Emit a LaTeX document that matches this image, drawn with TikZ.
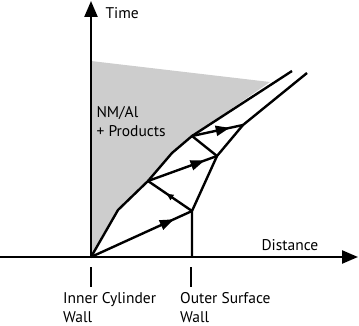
\documentclass[tikz,border=0pt]{standalone}
\usepackage{fontspec}
\setmainfont{PT Sans}
\usetikzlibrary{arrows.meta, decorations.markings}
\definecolor{productgray}{HTML}{CDCDCD}

\begin{document}
\begin{tikzpicture}[x=1pt, y=-1pt, >={Triangle[length=16pt, width=13pt]},
  line width=2.4pt, line join=round, font=\fontsize{15.5}{19}\selectfont,
  midarrow/.style={postaction={decorate}, decoration={markings,
      mark=at position #1 with {\arrow{Triangle[length=14pt, width=10pt]}}}},
  smallarrow/.style={postaction={decorate}, decoration={markings,
      mark=at position #1 with {\arrow{Triangle[length=7pt, width=6pt]}}}}]
  \useasboundingbox (0,0) rectangle (359,326);

  % Points of the wave paths
  \coordinate (o) at (91,257);
  \coordinate (in1) at (118,210);
  \coordinate (in2) at (148,181);
  \coordinate (in3) at (172,153);
  \coordinate (in4) at (192,136);
  \coordinate (inend) at (292,71);
  \coordinate (wall) at (192,257);
  \coordinate (out1) at (192,211);
  \coordinate (out2) at (217,156);
  \coordinate (out3) at (243,125);
  \coordinate (outend) at (307,73);

  % Products region
  \fill[productgray] (o) -- (91,61) -- (270,82) -- (in4) -- (in3) -- (in2) -- (in1) -- cycle;

  % Axes
  \draw[->] (0,257) -- (358,257);
  \draw[->] (o) -- (91,1);
  \node[anchor=west] (time) at (101,13) {Time};
  \node[anchor=west] (dist) at (257,245) {Distance};

  % Boundaries
  \draw (o) -- (in1) -- (in2) -- (in3) -- (in4) -- (inend);
  \draw (wall) -- (out1) -- (out2) -- (out3) -- (outend);

  % Reflected waves
  \draw[midarrow=0.82] (o) -- (out1);
  \draw[smallarrow=0.58] (out1) -- (in2);
  \draw[midarrow=0.82] (in2) -- (out2);
  \draw (out2) -- (in4);
  \draw[midarrow=0.74] (in4) -- (out3);

  % Labels
  \node[anchor=west, align=left] (nmal) at (92,122) {NM/Al\\+ Products};
  \draw[line width=1.8pt] (91,267) -- (91,287);
  \draw[line width=1.8pt] (191,267) -- (191,287);
  \node[anchor=north west, align=left, inner sep=2pt] (inner) at (60,289) {Inner Cylinder\\Wall};
  \node[anchor=north west, align=left, inner sep=2pt] (outer) at (177,289) {Outer Surface\\Wall};
\end{tikzpicture}
\end{document}
